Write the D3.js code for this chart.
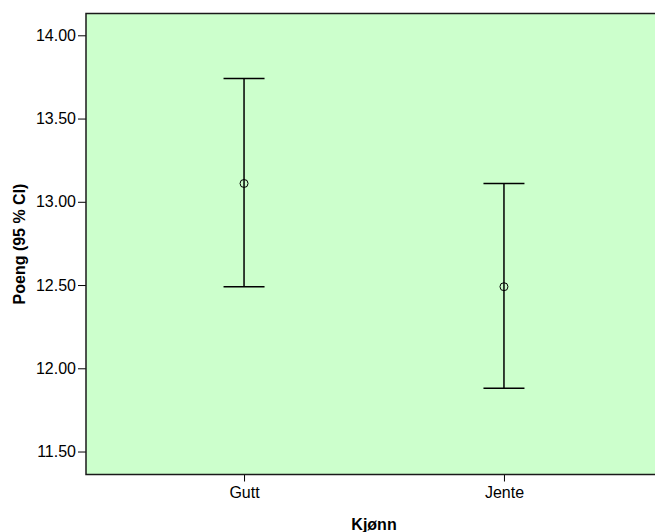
<!DOCTYPE html>
<html>
<head>
<meta charset="utf-8">
<script src="https://cdn.jsdelivr.net/npm/d3@7"></script>
<style>
  body { margin: 0; background: #fff; }
  text { font-family: "Liberation Sans", Arial, sans-serif; fill: #000; }
</style>
</head>
<body>
<script>
var W = 655, H = 532;

// data
var groups = ["Gutt", "Jente"];
var means = [13.11, 12.49];
var lower = [12.49, 11.88];
var upper = [13.74, 13.11];
var yTicks = [11.5, 12.0, 12.5, 13.0, 13.5, 14.0];

var plot = { left: 86, right: 662, top: 13.5, bottom: 474.5 };

var svg = d3.select("body").append("svg").attr("width", W).attr("height", H);

var y = d3.scaleLinear().domain([11.362, 14.131]).range([plot.bottom, plot.top]);
var x = d3.scalePoint().domain(groups).range([plot.left, plot.right]).padding(0.608);

// background
svg.append("rect")
  .attr("x", plot.left).attr("y", plot.top)
  .attr("width", plot.right - plot.left).attr("height", plot.bottom - plot.top)
  .attr("fill", "#ccffcc");

// y axis
var yAxis = svg.append("g")
  .attr("transform", "translate(" + plot.left + ",0)")
  .call(d3.axisLeft(y).tickValues(yTicks).tickFormat(d3.format(".2f")).tickSize(8).tickPadding(2));
yAxis.select(".domain").remove();
yAxis.selectAll("line").attr("stroke", "#000");
yAxis.selectAll("text").style("font-size", "16px").attr("font-family", null);

// x axis
var xAxis = svg.append("g")
  .attr("transform", "translate(0," + plot.bottom + ")")
  .call(d3.axisBottom(x).tickSize(7).tickPadding(5));
xAxis.select(".domain").remove();
xAxis.selectAll("line").attr("stroke", "#000");
xAxis.selectAll("text").style("font-size", "16px").attr("font-family", null);

// frame
svg.append("path")
  .attr("d", "M" + plot.right + "," + plot.top + "H" + plot.left + "V" + plot.bottom + "H" + plot.right)
  .attr("fill", "none").attr("stroke", "#1a1a1a").attr("stroke-width", 1.5);

// error bars
var cap = 20.5;
var bars = svg.append("g").selectAll("g").data(groups).enter().append("g");
bars.append("line")
  .attr("x1", function (d) { return x(d); }).attr("x2", function (d) { return x(d); })
  .attr("y1", function (d, i) { return y(lower[i]); })
  .attr("y2", function (d, i) { return y(upper[i]); })
  .attr("stroke", "#000").attr("stroke-width", 1.5);
bars.append("line")
  .attr("x1", function (d) { return x(d) - cap; }).attr("x2", function (d) { return x(d) + cap; })
  .attr("y1", function (d, i) { return y(upper[i]); })
  .attr("y2", function (d, i) { return y(upper[i]); })
  .attr("stroke", "#000").attr("stroke-width", 1.5);
bars.append("line")
  .attr("x1", function (d) { return x(d) - cap; }).attr("x2", function (d) { return x(d) + cap; })
  .attr("y1", function (d, i) { return y(lower[i]); })
  .attr("y2", function (d, i) { return y(lower[i]); })
  .attr("stroke", "#000").attr("stroke-width", 1.5);
bars.append("circle")
  .attr("cx", function (d) { return x(d); })
  .attr("cy", function (d, i) { return y(means[i]); })
  .attr("r", 4)
  .attr("fill", "none").attr("stroke", "#000").attr("stroke-width", 1);

// titles
svg.append("text")
  .attr("x", (plot.left + plot.right) / 2).attr("y", 530)
  .attr("text-anchor", "middle")
  .style("font-size", "16px").style("font-weight", "bold")
  .text("Kjønn");

svg.append("text")
  .attr("transform", "translate(25," + ((plot.top + plot.bottom) / 2) + ") rotate(-90)")
  .attr("text-anchor", "middle")
  .style("font-size", "16px").style("font-weight", "bold")
  .text("Poeng (95 % CI)");
</script>
</body>
</html>
